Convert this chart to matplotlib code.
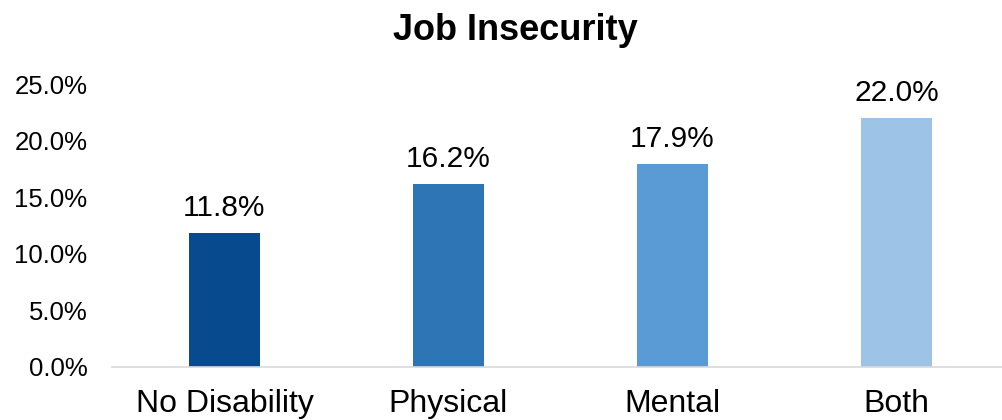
import matplotlib.pyplot as plt

categories = ['No Disability', 'Physical', 'Mental', 'Both']
values = [11.8, 16.2, 17.9, 22.0]
colors = ['#074A8E', '#2E75B6', '#5B9BD5', '#9DC3E6']
yticks = [0, 5, 10, 15, 20, 25]

plt.rcParams['font.family'] = ['Liberation Sans', 'DejaVu Sans']

fig = plt.figure(figsize=(10.03, 4.2), dpi=100)
ax = fig.add_axes([112.5 / 1003, 53 / 420, 896 / 1003, 283 / 420])

x = range(len(categories))
bars = ax.bar(x, values, width=0.32, color=colors)
for i, v in enumerate(values):
    ax.annotate('%.1f%%' % v, (i, v), xytext=(0, 8), textcoords='offset points',
                ha='center', va='bottom', fontsize=21.5, color='#000000')

ax.set_xlim(-0.5, 3.5)
ax.set_ylim(0, 25)
ax.set_yticks(yticks)
ax.set_yticklabels(['%.1f%%' % t for t in yticks], fontsize=18.5)
ax.set_xticks(list(x))
ax.set_xticklabels(categories, fontsize=23)
ax.tick_params(axis='y', length=0, pad=18)
ax.tick_params(axis='x', length=0, pad=16)

for s in ['top', 'right', 'left']:
    ax.spines[s].set_visible(False)
ax.spines['bottom'].set_color('#D9D9D9')
ax.spines['bottom'].set_linewidth(1.2)

fig.text(515 / 1003, 1 - 30 / 420, 'Job Insecurity', ha='center', va='center',
         fontsize=26, fontweight='bold')

fig.savefig('out.png', dpi=100)
